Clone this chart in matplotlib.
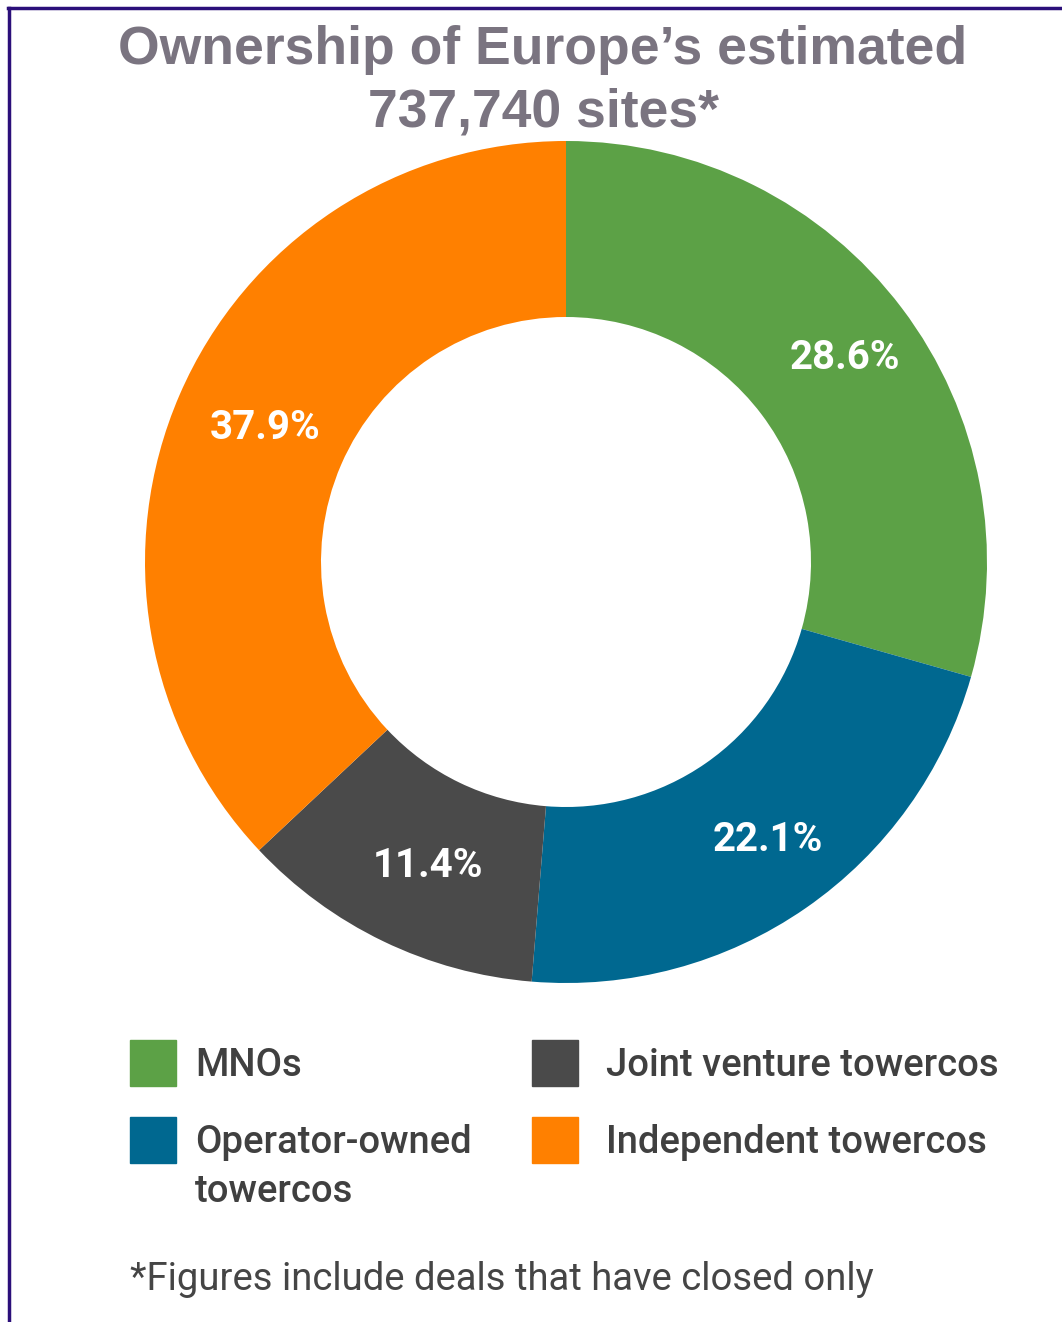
import numpy as np
import matplotlib
matplotlib.use('Agg')
from matplotlib import pyplot as plt
from matplotlib.patches import Rectangle

categories = ['MNOs', 'Operator-owned\ntowercos', 'Joint venture towercos', 'Independent towercos']
# printed percentages
shares = [28.6, 22.1, 11.4, 37.9]
# arc sizes as drawn in the picture (the slices are not quite the printed numbers)
arcs = [29.4, 21.9, 11.7, 37.0]
colors = ['#5ca146', '#006890', '#4a4a4a', '#ff8000']
title = 'Ownership of Europe\u2019s estimated\n737,740 sites*'
note = '*Figures include deals that have closed only'

W, H = 1062, 1322
fig = plt.figure(figsize=(W / 100, H / 100), dpi=100)

def fx(x):
    return x / W

def fy(y):
    return 1 - y / H

# frame lines (top, left)
border = '#2b0f7a'
fig.add_artist(plt.Line2D([fx(8), fx(1062)], [fy(8), fy(8)], color=border, lw=2.5))
fig.add_artist(plt.Line2D([fx(9), fx(9)], [fy(8), fy(1322)], color=border, lw=2.5))

# donut
cx, cy, R, r_in = 566, 562, 421, 245
ax = fig.add_axes([fx(cx - R), fy(cy + R), 2 * R / W, 2 * R / H])
ax.pie(arcs, colors=colors, startangle=90, counterclock=False,
       radius=1.0, wedgeprops=dict(width=1 - r_in / R, edgecolor='none'))
ax.set_xlim(-1, 1)
ax.set_ylim(-1, 1)
ax.set_aspect('equal')
ax.axis('off')

rmid = 338 / R
xoff = 9 / R  # labels sit a touch right of the arc centre
start = 90.0
for a, s in zip(arcs, shares):
    mid = np.deg2rad(start - a * 3.6 / 2)
    ax.text(rmid * np.cos(mid) + xoff, rmid * np.sin(mid), f'{s:.1f}%', color='white',
            fontsize=29, fontweight='bold', family='Roboto', ha='center', va='center')
    start -= a * 3.6

fig.text(fx(543), fy(81), title, ha='center', va='center', fontsize=38.5,
         fontweight='bold', family='Liberation Sans', color='#7a7480',
         linespacing=1.32)

# legend
boxes = [(130, 1040), (130, 1117), (532, 1040), (532, 1117)]
text_x = [195, 195, 606, 606]
for (x, y), tx, lab, c in zip(boxes, text_x, categories, colors):
    fig.add_artist(Rectangle((fx(x), fy(y + 46)), 46 / W, 46 / H, color=c,
                             transform=fig.transFigure))
    fig.text(fx(tx), fy(y + 7), lab, ha='left', va='top', fontsize=27.5,
             family='Roboto', fontweight='medium', color='#404040', linespacing=1.4)

fig.text(fx(130), fy(1280), note, ha='left', va='center', fontsize=27.5,
         family='Roboto', color='#454545')

fig.savefig('out.png', dpi=100)
